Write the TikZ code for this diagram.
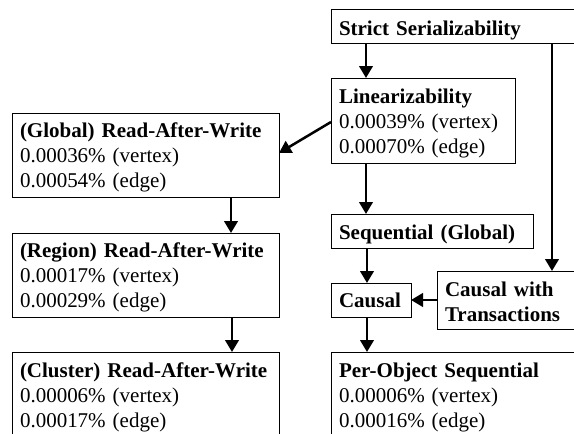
\documentclass[tikz,border=0pt]{standalone}
\usepackage{fontspec}
\setmainfont{Liberation Serif}
\usetikzlibrary{arrows.meta}
\begin{document}
\begin{tikzpicture}[x=1pt,y=-1pt,inner sep=0pt,outer sep=0pt,
cbox/.style={draw,rectangle,line width=1pt,anchor=north west,align=left,inner xsep=8pt,inner ysep=0pt,
  font=\fontsize{21pt}{25pt}\selectfont},
arr/.style={line width=2.5pt,-{Triangle[length=12pt,width=13.5pt]}}]

\useasboundingbox (0,0) rectangle (574,434);
\clip (0,0) rectangle (574,434);

\draw (331,9) node[cbox,text width=264pt,text height=26pt,text depth=8pt] (ss) {\textbf{Strict Serializability}};
\draw (331,78) node[cbox,text width=168pt,text height=25pt,text depth=60pt] (lin) {\textbf{Linearizability}\\0.00039\% (vertex)\\0.00070\% (edge)};
\draw (12,113) node[cbox,text width=251pt,text height=24pt,text depth=60pt] (graw) {\textbf{(Global) Read-After-Write}\\0.00036\% (vertex)\\0.00054\% (edge)};
\draw (12,233) node[cbox,text width=251pt,text height=24pt,text depth=60pt] (rraw) {\textbf{(Region) Read-After-Write}\\0.00017\% (vertex)\\0.00029\% (edge)};
\draw (12,352) node[cbox,text width=251pt,text height=25pt,text depth=60pt] (craw) {\textbf{(Cluster) Read-After-Write}\\0.00006\% (vertex)\\0.00017\% (edge)};
\draw (331,214) node[cbox,text width=186pt,text height=25pt,text depth=9pt] (seq) {\textbf{Sequential (Global)}};
\draw (331,283) node[cbox,text width=64pt,text height=24pt,text depth=10pt] (causal) {\textbf{Causal}};
\draw (437,271) node[cbox,text width=150pt,text height=25pt,text depth=33pt] (cwt) {\textbf{Causal with}\\\textbf{Transactions}};
\draw (331,352) node[cbox,text width=264pt,text height=25pt,text depth=60pt] (pos) {\textbf{Per-Object Sequential}\\0.00006\% (vertex)\\0.00016\% (edge)};

\draw[arr] ([xshift=35pt]ss.south west) -- ([xshift=35pt]lin.north west);
\draw[arr] ([xshift=221pt]ss.south west) -- ([xshift=115pt]cwt.north west);
\draw[arr] ([yshift=-44pt]lin.north west) -- ([yshift=2pt]graw.east);
\draw[arr] ([xshift=35pt]lin.south west) -- ([xshift=35pt]seq.north west);
\draw[arr] ([xshift=219pt]graw.south west) -- ([xshift=219pt]rraw.north west);
\draw[arr] ([xshift=220pt]rraw.south west) -- ([xshift=220pt]craw.north west);
\draw[arr] ([xshift=36pt]seq.south west) -- ([xshift=36pt]causal.north west);
\draw[arr] (cwt.west) -- (causal.east);
\draw[arr] ([xshift=36pt]causal.south west) -- ([xshift=36pt]pos.north west);
\end{tikzpicture}
\end{document}
